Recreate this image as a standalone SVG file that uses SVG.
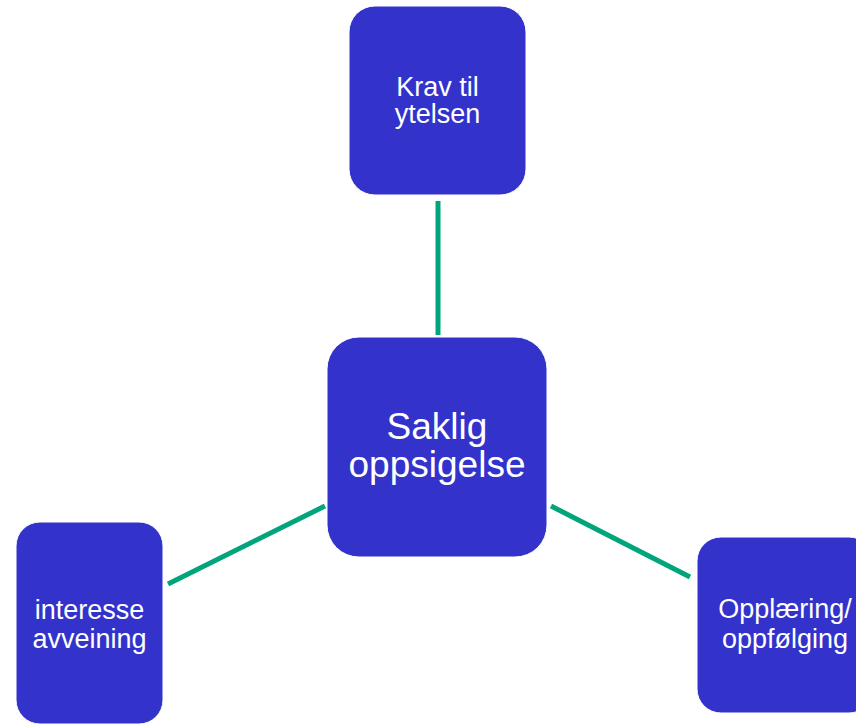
<svg xmlns="http://www.w3.org/2000/svg" width="856" height="725" viewBox="0 0 856 725">
<style>
.box{fill:#3333CC;stroke:#ffffff;stroke-width:1}
.t{font-family:"Liberation Sans",Arial,sans-serif;fill:#ffffff;text-anchor:middle;font-size:27px}
.big{font-size:37px}
.c{stroke:#00A57B;stroke-width:5;fill:none;stroke-linecap:butt}
</style>
<rect width="856" height="725" fill="#ffffff"/>
<g id="connectors">
<line class="c" x1="438" y1="201" x2="438" y2="335"/>
<line class="c" x1="168" y1="584" x2="325" y2="506"/>
<line class="c" x1="551" y1="506" x2="690" y2="577"/>
</g>
<g id="node-krav">
<rect class="box" x="349" y="6" width="177" height="189" rx="26"/>
<text class="t" x="437.5" y="96">Krav til</text>
<text class="t" x="437.5" y="123">ytelsen</text>
</g>
<g id="node-saklig">
<rect class="box" x="327" y="337" width="220" height="220" rx="32"/>
<text class="t big" x="437" y="439">Saklig</text>
<text class="t big" x="437" y="477">oppsigelse</text>
</g>
<g id="node-interesse">
<rect class="box" x="16" y="522" width="147" height="202" rx="24"/>
<text class="t" x="89.5" y="619">interesse</text>
<text class="t" x="89.5" y="648">avveining</text>
</g>
<g id="node-opplaering">
<rect class="box" x="697" y="537" width="176" height="176" rx="24"/>
<text class="t" x="785" y="618">Opplæring/</text>
<text class="t" x="785" y="648">oppfølging</text>
</g>
</svg>
